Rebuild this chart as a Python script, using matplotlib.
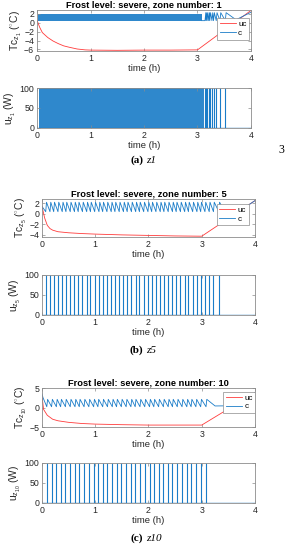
import matplotlib
matplotlib.use('Agg')
import matplotlib.pyplot as plt
import numpy as np

plt.rcParams['font.family'] = ['Liberation Sans', 'DejaVu Sans']
plt.rcParams['mathtext.fontset'] = 'custom'
plt.rcParams['mathtext.rm'] = 'Liberation Sans'
plt.rcParams['mathtext.it'] = 'Liberation Sans'

# zones shown in the three sub-figures
zones = [1, 5, 10]
letters = ['a', 'b', 'c']
hours = [0, 1, 2, 3, 4]
u_ticks = [0, 50, 100]

# uncontrolled temperature (uc)
uc1_t = [0, 0.05, 0.1, 0.2, 0.3, 0.4, 0.5, 0.6, 0.75, 0.9, 1.0, 1.5, 2.0, 2.5, 3.0, 4.0]
uc1_T = [0.6, -1.0, -2.2, -3.3, -4.1, -4.7, -5.2, -5.5, -5.9, -6.1, -6.15, -6.2, -6.15, -6.15, -6.1, 2.8]
uc5_t = [0, 0.05, 0.1, 0.15, 0.2, 0.3, 0.5, 0.75, 1.0, 1.5, 2.0, 2.5, 3.0, 4.0]
uc5_T = [1.4, -0.8, -2.2, -2.8, -3.1, -3.4, -3.6, -3.75, -3.85, -4.0, -4.1, -4.2, -4.25, 2.5]
uc10_t = [0, 0.03, 0.1, 0.2, 0.3, 0.5, 0.75, 1.0, 1.5, 2.0, 2.5, 3.0, 4.0]
uc10_T = [3.0, -0.5, -2.0, -3.0, -3.4, -3.8, -4.1, -4.25, -4.4, -4.5, -4.5, -4.5, 3.8]

# heater switch-on times (h)
on1 = [3.14, 3.16, 3.18, 3.21, 3.23, 3.27, 3.30, 3.35, 3.42, 3.52]
dense1 = [0.03, 3.12]          # zone 1 chatters too fast to resolve
band1_t = [0.02, 3.08]
band1_lo = [0.5, 0.5]
band1_hi = [2.0, 2.0]
on5 = [0.07, 0.15, 0.22, 0.30, 0.38, 0.45, 0.53, 0.61, 0.68, 0.76, 0.84, 0.91, 0.99, 1.07,
       1.14, 1.22, 1.30, 1.37, 1.45, 1.53, 1.60, 1.68, 1.76, 1.83, 1.91, 1.99, 2.06, 2.14,
       2.22, 2.29, 2.37, 2.45, 2.52, 2.60, 2.68, 2.75, 2.83, 2.91, 2.98, 3.06, 3.14, 3.22, 3.32]
on10 = [0.09, 0.18, 0.27, 0.35, 0.44, 0.53, 0.62, 0.70, 0.79, 0.88, 0.97, 1.05, 1.14, 1.23,
        1.32, 1.40, 1.49, 1.58, 1.67, 1.75, 1.84, 1.93, 2.02, 2.10, 2.19, 2.28, 2.37, 2.45,
        2.54, 2.63, 2.72, 2.80, 2.89, 2.98, 3.08]

# controlled temperature (c): trough / peak levels, start and end pieces
c_lo = [0.5, 0.4, 0.2]
c_hi = [2.3, 2.2, 2.1]
c1_head_t, c1_head_T = [3.08], [0.5]
c1_tail_t, c1_tail_T = [3.72, 4.0], [0.7, 2.4]
c5_head_t, c5_head_T = [0.0], [1.4]
c5_tail_t, c5_tail_T = [3.42, 3.72, 4.0], [0.6, 0.6, 2.5]
c10_head_t, c10_head_T = [0.0, 0.02], [3.5, 2.5]
c10_tail_t, c10_tail_T = [3.25, 3.6, 4.0], [0.4, 0.45, 3.8]

T_lims = [(-6.35, 2.9), (-4.4, 2.8), (-5, 5)]
T_ticks = [[-6, -4, -2, 0, 2], [-4, -2, 0, 2], [-5, 0, 5]]

red = '#ff3b3b'
blue = '#1a7cc8'
edge = '#8c8c8c'
ink = '#262626'


def sawtooth(head_t, head_T, on, lo, hi, tail_t, tail_T):
    t = list(head_t)
    T = list(head_T)
    for s in on:
        t += [s, s + 0.015]
        T += [lo, hi]
    return t + list(tail_t), T + list(tail_T)


def style(ax):
    for sp in ax.spines.values():
        sp.set_color(edge)
        sp.set_linewidth(0.6)
    ax.tick_params(direction='in', length=2, width=0.5, color=edge,
                   labelsize=6.3, pad=2, top=True, right=True, labelcolor=ink)
    ax.set_xlim(0, 4)
    ax.set_xticks(hours)
    ax.set_xlabel('time (h)', fontsize=6.8, labelpad=1, color=ink)


fig = plt.figure(figsize=(2.88, 5.5), dpi=100)

# [left, bottom, width, height] of temperature and heater axes per zone
top_pos = [[0.1285, 0.9073, 0.743, 0.0745],
           [0.1458, 0.5691, 0.7396, 0.069],
           [0.1458, 0.2236, 0.7396, 0.0709]]
bot_pos = [[0.1285, 0.7673, 0.743, 0.0727],
           [0.1458, 0.4273, 0.7396, 0.0727],
           [0.1458, 0.0855, 0.7396, 0.0727]]
leg_anchor = [(0.99, 0.80), (0.97, 0.87), (1.0, 0.91)]
cap_y = [0.709, 0.3636, 0.0218]

uc_t = [uc1_t, uc5_t, uc10_t]
uc_T = [uc1_T, uc5_T, uc10_T]
ons = [on1, on5, on10]
heads = [(c1_head_t, c1_head_T), (c5_head_t, c5_head_T), (c10_head_t, c10_head_T)]
tails = [(c1_tail_t, c1_tail_T), (c5_tail_t, c5_tail_T), (c10_tail_t, c10_tail_T)]

for i in range(3):
    z = zones[i]
    ax = fig.add_axes(top_pos[i])
    ax.plot(uc_t[i], uc_T[i], color=red, lw=0.6, label='uc')
    ct, cT = sawtooth(heads[i][0], heads[i][1], ons[i], c_lo[i], c_hi[i], tails[i][0], tails[i][1])
    if i == 0:
        ax.fill_between(band1_t, band1_lo, band1_hi, color='#2f88cc', lw=0)
    ax.plot(ct, cT, color=blue, lw=0.6, label='c')
    style(ax)
    ax.set_ylim(*T_lims[i])
    ax.set_yticks(T_ticks[i])
    ax.set_ylabel(r'Tc$_{z_{%d}}$ ($^{\circ}$C)' % z, fontsize=7.4, labelpad=0, color=ink)
    ax.set_title('Frost level: severe, zone number: %d' % z, fontsize=6.7,
                 fontweight='bold', pad=1.5)
    leg = ax.legend(loc='upper right', bbox_to_anchor=leg_anchor[i], fontsize=5.8,
                    handlelength=2.0, handletextpad=0.3, borderpad=0.3, labelspacing=0.15,
                    fancybox=False, framealpha=1, borderaxespad=0)
    leg.get_frame().set_edgecolor(edge)
    leg.get_frame().set_linewidth(0.5)

    bx = fig.add_axes(bot_pos[i])
    if i == 0:
        bx.fill_between(dense1, 0, 100, color='#2f88cc', lw=0)
    bx.vlines(ons[i], 0, 100, color=blue, lw=0.8)
    bx.plot([0, 4], [0, 0], color=blue, lw=1.0)
    style(bx)
    bx.set_ylim(0, 100)
    bx.set_yticks(u_ticks)
    bx.set_ylabel(r'u$_{z_{%d}}$ (W)' % z, fontsize=7.4, labelpad=1, color=ink)

    fig.text(0.497, cap_y[i], '(%s)' % letters[i], ha='right', va='center',
             family='Liberation Serif', fontweight='bold', fontsize=8)
    fig.text(0.507, cap_y[i], 'z%d' % z, ha='left', va='center',
             family='Liberation Serif', style='italic', fontsize=8)

fig.text(0.978, 0.727, '3', ha='center', va='center', family='Liberation Serif', fontsize=8.5)

fig.savefig('out.png', dpi=100)
